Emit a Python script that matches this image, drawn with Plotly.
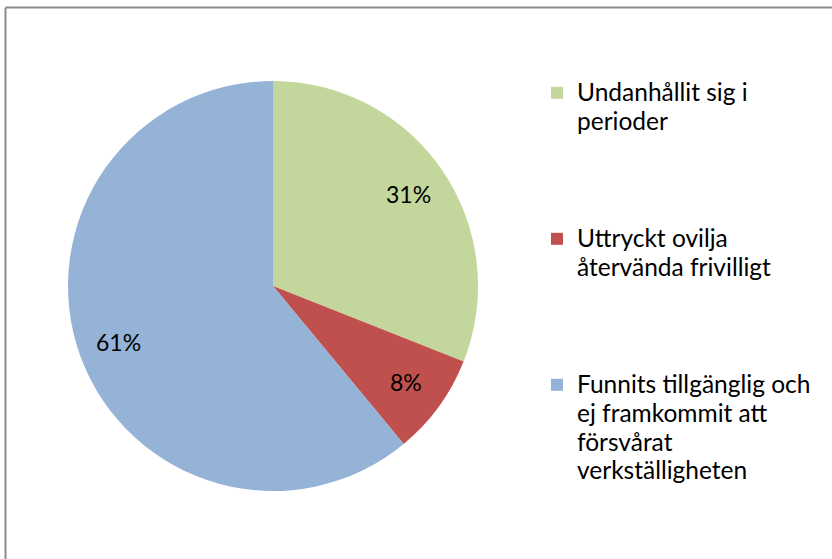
import math
import plotly.graph_objects as go

W, H = 832, 559

categories = [
    ["Undanhållit sig i", "perioder"],
    ["Uttryckt ovilja", "återvända frivilligt"],
    ["Funnits tillgänglig och", "ej framkommit att", "försvårat", "verkställigheten"],
]
values = [31, 8, 61]
colors = ["#C3D69B", "#C0504D", "#95B3D7"]

FONT = "Lato, 'Open Sans', sans-serif"
LEGEND_TEXT_SIZE = 24.5
LEGEND_LINE_SIZE = 22
max_lines = 5

# legend labels: larger glyphs, padded with blank lines so entries are spaced out
labels_padded = []
for lines in categories:
    styled = "<br>".join(
        f'<span style="font-size:{LEGEND_TEXT_SIZE}px">{ln}</span>' for ln in lines
    )
    labels_padded.append(styled + "<br> " * max(0, max_lines - len(lines)))

# pie geometry (domain in paper coordinates)
dom_x = [68 / W, 478 / W]
dom_y = [(H - 491) / H, (H - 81) / H]

fig = go.Figure(
    go.Pie(
        labels=labels_padded,
        values=values,
        marker=dict(colors=colors, line=dict(width=0)),
        sort=False,
        direction="clockwise",
        rotation=0,
        textinfo="none",
        domain=dict(x=dom_x, y=dom_y),
        hoverinfo="percent",
    )
)

# percentage labels placed at 80% of the radius along each slice's middle angle
total = sum(values)
cx_px = (dom_x[0] + dom_x[1]) / 2 * W
cy_px = (dom_y[0] + dom_y[1]) / 2 * H
r_px = min((dom_x[1] - dom_x[0]) * W, (dom_y[1] - dom_y[0]) * H) / 2
annotations = []
cum = 0
for v in values:
    mid = (cum + v / 2) / total * 2 * math.pi
    cum += v
    px = cx_px + 0.8 * r_px * math.sin(mid)
    py = cy_px + 0.8 * r_px * math.cos(mid)
    annotations.append(dict(
        x=px / W, y=py / H, xref="paper", yref="paper",
        text=f"{round(100 * v / total)}%", showarrow=False,
        xanchor="center", yanchor="middle",
        font=dict(family=FONT, size=23, color="#000000"),
    ))

fig.update_layout(
    width=W,
    height=H,
    margin=dict(l=0, r=0, t=0, b=0),
    paper_bgcolor="white",
    plot_bgcolor="white",
    font=dict(family=FONT, color="#000000"),
    showlegend=True,
    annotations=annotations,
    legend=dict(
        x=537 / W,
        y=(H - 72) / H,
        xanchor="left",
        yanchor="top",
        valign="top",
        font=dict(family=FONT, size=LEGEND_LINE_SIZE, color="#000000"),
        bgcolor="rgba(0,0,0,0)",
    ),
    shapes=[
        dict(type="line", xref="paper", yref="paper",
             x0=5.5 / W, x1=5.5 / W, y0=-0.05, y1=(H - 7.5) / H,
             line=dict(color="#8c8c8c", width=2)),
        dict(type="line", xref="paper", yref="paper",
             x0=5.5 / W, x1=1.05, y0=(H - 7.5) / H, y1=(H - 7.5) / H,
             line=dict(color="#8c8c8c", width=2)),
    ],
)

fig.write_html(
    "out.html",
    config={"displayModeBar": False},
    post_script="document.body.style.margin='0';document.body.style.overflow='hidden';",
)
